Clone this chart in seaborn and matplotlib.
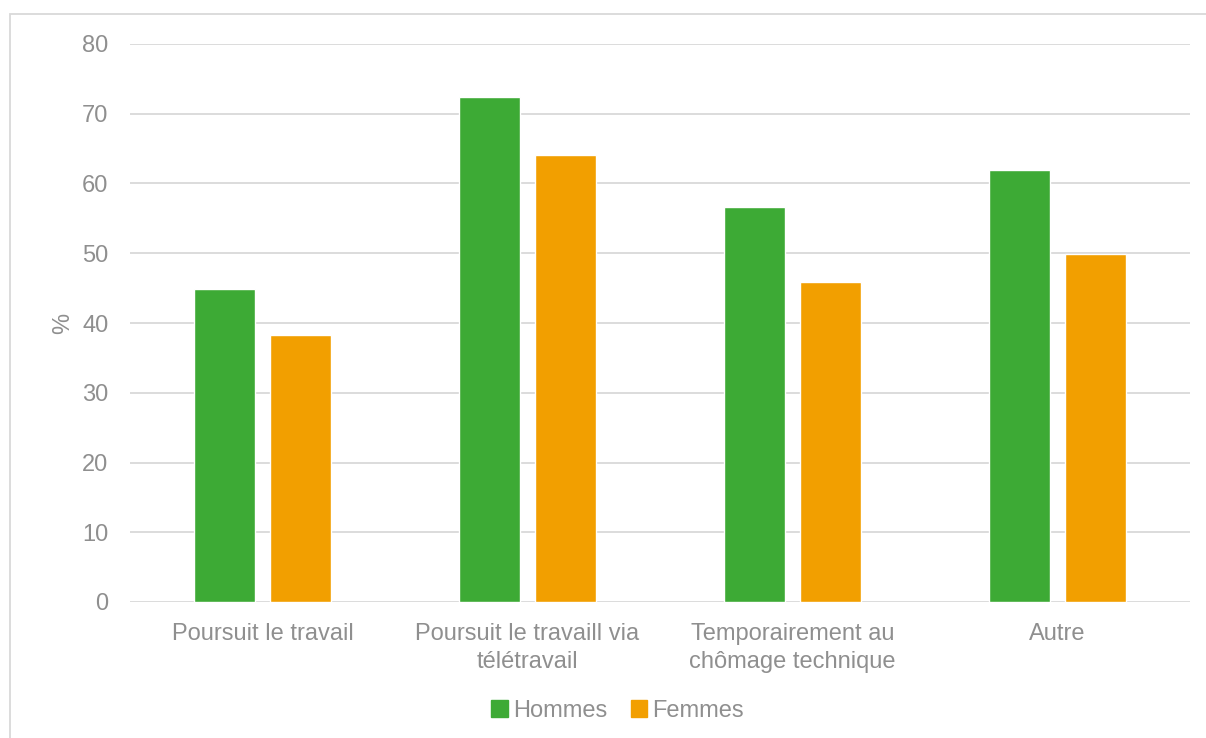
import matplotlib.pyplot as plt
import matplotlib.patches as mpatches
import pandas as pd
import seaborn as sns

categories = ['Poursuit le travail', 'Poursuit le travaill via\ntélétravail',
              'Temporairement au\nchômage technique', 'Autre']
hommes = [44.9, 72.4, 56.6, 61.9]
femmes = [38.3, 64.1, 45.9, 49.9]
series = ['Hommes', 'Femmes']
colors = ['#3daa35', '#f29f00']
grey = '#8f8f8f'

df = pd.DataFrame({
    'cat': categories * 2,
    'sexe': ['Hommes'] * 4 + ['Femmes'] * 4,
    'val': hommes + femmes,
})

sns.set_style('white')
plt.rcParams['font.family'] = ['Liberation Sans', 'DejaVu Sans']

fig = plt.figure(figsize=(12.06, 7.38), dpi=100)
ax = fig.add_axes([130 / 1206, 1 - 602 / 738, 1060 / 1206, 558 / 738])

sns.barplot(data=df, x='cat', y='val', hue='sexe', hue_order=series,
            palette=colors, width=0.574, gap=0.21, saturation=1,
            errorbar=None, ax=ax, legend=False)

ax.set_ylim(0, 80)
ax.set_xlim(-0.5, 3.5)
ax.set_yticks(range(0, 81, 10))
ax.yaxis.grid(True, color='#d9d9d9', linewidth=1.3)
ax.set_axisbelow(True)
for s in ax.spines.values():
    s.set_visible(False)
ax.tick_params(axis='both', length=0, labelsize=17, labelcolor=grey)
ax.tick_params(axis='y', pad=15.5)
ax.tick_params(axis='x', pad=15)
for lbl in ax.get_xticklabels():
    lbl.set_linespacing(1.35)
ax.set_xlabel('')
ax.set_ylabel('%', fontsize=17, color=grey, labelpad=6)

handles = [mpatches.Patch(color=c, label=l) for c, l in zip(colors, series)]
fig.legend(handles=handles, loc='center', bbox_to_anchor=(0.512, 1 - 711 / 738),
           ncol=2, frameon=False, fontsize=17, labelcolor=grey,
           handlelength=0.7, handleheight=0.7, handletextpad=0.2,
           columnspacing=1.0)

border = mpatches.Rectangle((10 / 1206, -0.1), 1.2, 1.1 - 14 / 738,
                            transform=fig.transFigure, fill=False,
                            edgecolor='#d9d9d9', linewidth=1.3)
fig.patches.append(border)

plt.savefig('out.png', dpi=100)
